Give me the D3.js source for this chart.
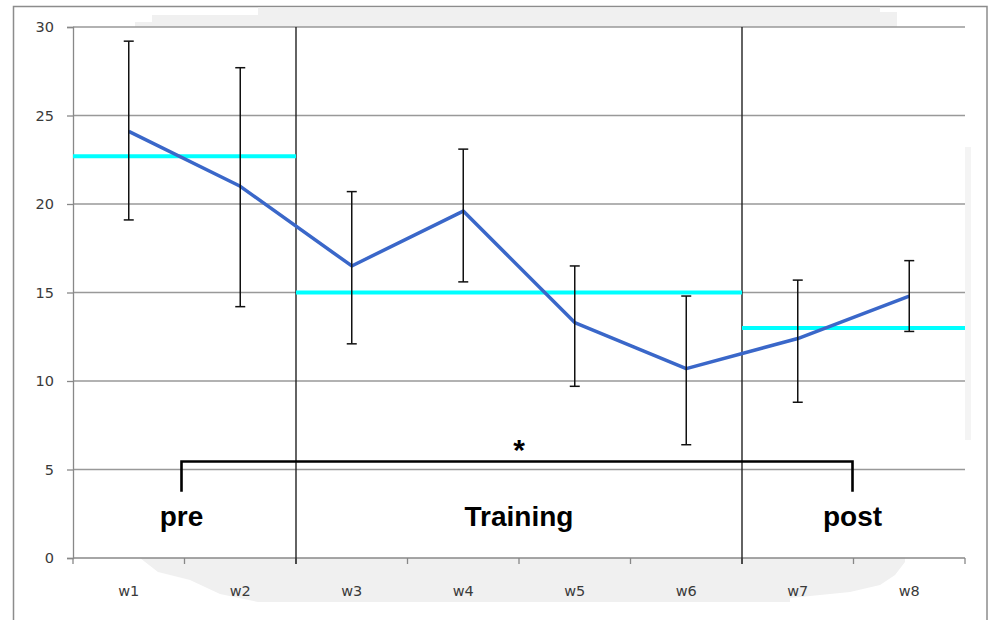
<!DOCTYPE html>
<html>
<head>
<meta charset="utf-8">
<script src="https://cdn.jsdelivr.net/npm/d3@7"></script>
<style>
  html, body { margin: 0; padding: 0; background: #fff; }
  svg { display: block; }
</style>
</head>
<body>
<div id="chart"></div>
<script>
// Weekly means with error bars, grouped into pre / Training / post phases
const weeks = ["w1", "w2", "w3", "w4", "w5", "w6", "w7", "w8"];
const weeklyMean = [24.1, 21.0, 16.5, 19.6, 13.3, 10.7, 12.4, 14.8];
const errUpper = [29.2, 27.7, 20.7, 23.1, 16.5, 14.8, 15.7, 16.8];
const errLower = [19.1, 14.2, 12.1, 15.6, 9.7, 6.4, 8.8, 12.8];

const phaseNames = ["pre", "Training", "post"];
const phaseFirstWeek = ["w1", "w3", "w7"];
const phaseLastWeek = ["w2", "w6", "w8"];
const phaseMean = [22.7, 15.0, 13.0];

const yTicks = [0, 5, 10, 15, 20, 25, 30];
const bracketLevel = 5.45;
const bracketDrop = 3.75;

const W = 992, H = 620;
const plot = { left: 73, right: 965, top: 27, bottom: 558 };

const svg = d3.select("#chart").append("svg")
  .attr("width", W).attr("height", H);

const x = d3.scaleBand().domain(weeks).range([plot.left, plot.right]);
const y = d3.scaleLinear().domain([0, 30]).range([plot.bottom, plot.top]);

const smallFont = "'DejaVu Sans', Verdana, sans-serif";
const boldFont = "'Liberation Sans', Arial, sans-serif";

// chart frame
svg.append("rect")
  .attr("x", 13.5).attr("y", 6.5)
  .attr("width", 973.5).attr("height", 640)
  .attr("fill", "#fff").attr("stroke", "#8c8c8c").attr("stroke-width", 1.5);

// soft grey shading bands around the plot area
const shade = svg.append("g").attr("fill", "#f0f0f0");
shade.append("path").attr("d",
  "M135,27 L135,22 L152,22 L152,15 L258,15 L258,7.5 L880,7.5 L880,12 L897,12 L897,27 Z");
shade.append("path").attr("d",
  "M140,558 L158,572 L190,580 L220,594 L258,602 L790,602 L790,598 L850,592 L880,585 L895,575 L905,562 L905,558 Z");
shade.append("rect").attr("x", 965).attr("y", 147).attr("width", 6).attr("height", 293)
  .attr("fill", "#f4f4f4");

// horizontal gridlines
svg.append("g").selectAll("line").data(yTicks.filter(t => t > 0)).join("line")
  .attr("x1", plot.left).attr("x2", plot.right)
  .attr("y1", d => y(d)).attr("y2", d => y(d))
  .attr("stroke", "#999").attr("stroke-width", 1.3);

// y axis
const yAxis = svg.append("g")
  .attr("transform", `translate(${plot.left},0)`)
  .call(d3.axisLeft(y).tickValues(yTicks).tickSize(6).tickPadding(13));
yAxis.select(".domain").attr("stroke", "#888").attr("stroke-width", 1.3);
yAxis.selectAll(".tick line").attr("stroke", "#888").attr("stroke-width", 1.3);
yAxis.selectAll(".tick text")
  .attr("font-family", smallFont)
  .attr("font-size", 14.5).attr("fill", "#3a3a3a");

// x axis with ticks on category boundaries
const xAxisG = svg.append("g").attr("transform", `translate(0,${plot.bottom})`);
xAxisG.append("line")
  .attr("x1", plot.left).attr("x2", plot.right)
  .attr("stroke", "#888").attr("stroke-width", 1.3);
const boundaries = weeks.map(w => x(w)).concat([x(weeks[weeks.length - 1]) + x.bandwidth()]);
xAxisG.selectAll(".bt").data(boundaries).join("line")
  .attr("class", "bt")
  .attr("x1", d => d).attr("x2", d => d)
  .attr("y1", 0).attr("y2", 6)
  .attr("stroke", "#888").attr("stroke-width", 1.3);
xAxisG.selectAll("text").data(weeks).join("text")
  .attr("x", d => x(d) + x.bandwidth() / 2)
  .attr("y", 38)
  .attr("text-anchor", "middle")
  .attr("font-family", smallFont)
  .attr("font-size", 14.5).attr("fill", "#3a3a3a")
  .text(d => d);

// vertical phase separators
const separators = phaseFirstWeek.slice(1).map(w => x(w));
svg.append("g").selectAll("line").data(separators).join("line")
  .attr("x1", d => d).attr("x2", d => d)
  .attr("y1", plot.top).attr("y2", plot.bottom + 6)
  .attr("stroke", "#222").attr("stroke-width", 1.4);

// phase mean lines
svg.append("g").selectAll("line").data(phaseNames).join("line")
  .attr("x1", (d, i) => x(phaseFirstWeek[i]))
  .attr("x2", (d, i) => x(phaseLastWeek[i]) + x.bandwidth())
  .attr("y1", (d, i) => y(phaseMean[i]))
  .attr("y2", (d, i) => y(phaseMean[i]))
  .attr("stroke", "#00ffff").attr("stroke-width", 4);

// weekly mean line
const cx = w => x(w) + x.bandwidth() / 2;
svg.append("path")
  .datum(weeks.map((w, i) => [cx(w), y(weeklyMean[i])]))
  .attr("d", d3.line())
  .attr("fill", "none")
  .attr("stroke", "#3a67c9").attr("stroke-width", 3.5)
  .attr("stroke-linejoin", "round");

// error bars
const eb = svg.append("g").attr("stroke", "#111").attr("stroke-width", 1.5);
weeks.forEach((w, i) => {
  const xc = cx(w);
  eb.append("line").attr("x1", xc).attr("x2", xc)
    .attr("y1", y(errUpper[i])).attr("y2", y(errLower[i]));
  [errUpper[i], errLower[i]].forEach(v => {
    eb.append("line").attr("x1", xc - 5).attr("x2", xc + 5)
      .attr("y1", y(v)).attr("y2", y(v));
  });
});

// significance bracket from pre to post
const preX = x("w2") - 3;
const postX = x("w8") - 1;
svg.append("path")
  .attr("d", `M${preX},${y(bracketDrop)} L${preX},${y(bracketLevel)} L${postX},${y(bracketLevel)} L${postX},${y(bracketDrop)}`)
  .attr("fill", "none").attr("stroke", "#000").attr("stroke-width", 2.6);

const midX = x("w5");
svg.append("text")
  .attr("x", midX).attr("y", y(bracketLevel) - 2)
  .attr("text-anchor", "middle")
  .attr("font-family", boldFont)
  .attr("font-weight", "bold").attr("font-size", 30)
  .text("*");

// phase labels
const labelX = [preX, midX, postX];
svg.append("g").selectAll("text").data(phaseNames).join("text")
  .attr("x", (d, i) => labelX[i])
  .attr("y", 526)
  .attr("text-anchor", "middle")
  .attr("font-family", boldFont)
  .attr("font-weight", "bold").attr("font-size", 28)
  .attr("fill", "#000")
  .text(d => d);
</script>
</body>
</html>
